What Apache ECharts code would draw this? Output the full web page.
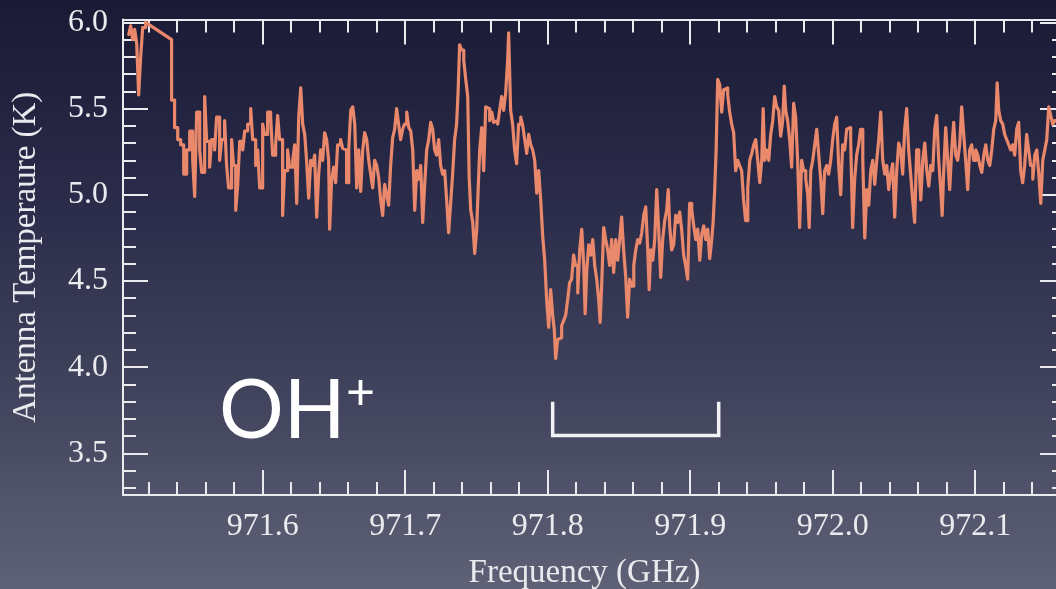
<!DOCTYPE html>
<html>
<head>
<meta charset="utf-8">
<title>OH+ absorption spectrum</title>
<script src="https://cdn.jsdelivr.net/npm/echarts@6/dist/echarts.min.js"></script>
<style>
  html, body { margin: 0; padding: 0; background: #2b2c4a; }
  #chart { width: 1056px; height: 589px; }
</style>
</head>
<body>
<div id="chart"></div>
<script>
// Spectrum near 971.8 GHz (frequency in GHz, antenna temperature in K)

// Channels at the low-frequency edge, before the gap in coverage
const edgeFreqs = [971.5060, 971.5074, 971.5088, 971.5102, 971.5116, 971.5130, 971.5144, 971.5158, 971.5179];
const edgeTemps = [5.93, 5.98, 5.90, 5.96, 5.88, 5.58, 5.80, 5.97, 6.00];

// Gap in coverage, bridged by a straight segment
const gapFreqs = [971.5179, 971.5361, 971.5361];
const gapTemps = [6.00, 5.90, 5.55];

// Main band
const freqs = [
  971.5361, 971.5382, 971.5404, 971.5425, 971.5446, 971.5467, 971.5488, 971.5509, 971.5523, 971.5537,
  971.5558, 971.5572, 971.5593, 971.5607, 971.5628, 971.5642, 971.5663, 971.5677, 971.5698, 971.5712,
  971.5733, 971.5747, 971.5761, 971.5782, 971.5796, 971.5811, 971.5825, 971.5839, 971.5860, 971.5874,
  971.5895, 971.5916, 971.5930, 971.5951, 971.5965, 971.5979, 971.6000, 971.6014, 971.6035, 971.6056,
  971.6070, 971.6091, 971.6105, 971.6119, 971.6140, 971.6154, 971.6175, 971.6189, 971.6211, 971.6225,
  971.6239, 971.6253, 971.6267, 971.6281, 971.6295, 971.6309, 971.6323, 971.6337, 971.6351, 971.6365,
  971.6379, 971.6393, 971.6407, 971.6421, 971.6435, 971.6449, 971.6463, 971.6470, 971.6484, 971.6498,
  971.6512, 971.6526, 971.6547, 971.6561, 971.6575, 971.6589, 971.6604, 971.6618, 971.6632, 971.6646,
  971.6660, 971.6674, 971.6688, 971.6702, 971.6716, 971.6730, 971.6744, 971.6758, 971.6772, 971.6786,
  971.6800, 971.6814, 971.6828, 971.6842, 971.6856, 971.6870, 971.6884, 971.6898, 971.6912, 971.6926,
  971.6940, 971.6954, 971.6968, 971.6982, 971.6996, 971.7011, 971.7025, 971.7039, 971.7053, 971.7067,
  971.7081, 971.7095, 971.7109, 971.7123, 971.7137, 971.7151, 971.7165, 971.7179, 971.7193, 971.7207,
  971.7221, 971.7235, 971.7249, 971.7263, 971.7277, 971.7291, 971.7305, 971.7319, 971.7333, 971.7347,
  971.7361, 971.7372, 971.7382, 971.7396, 971.7411, 971.7425, 971.7439, 971.7449, 971.7460, 971.7474,
  971.7488, 971.7502, 971.7512, 971.7523, 971.7537, 971.7551, 971.7565, 971.7579, 971.7593, 971.7607,
  971.7621, 971.7635, 971.7649, 971.7663, 971.7677, 971.7691, 971.7705, 971.7719, 971.7726, 971.7740,
  971.7754, 971.7768, 971.7782, 971.7796, 971.7811, 971.7825, 971.7839, 971.7853, 971.7867, 971.7881,
  971.7895, 971.7909, 971.7923, 971.7937, 971.7951, 971.7965, 971.7979, 971.7993, 971.8007, 971.8021,
  971.8035, 971.8046, 971.8056, 971.8070, 971.8084, 971.8098, 971.8112, 971.8126, 971.8140, 971.8154,
  971.8168, 971.8182, 971.8196, 971.8211, 971.8225, 971.8239, 971.8253, 971.8263, 971.8274, 971.8288,
  971.8302, 971.8316, 971.8330, 971.8344, 971.8358, 971.8368, 971.8379, 971.8393, 971.8407, 971.8421,
  971.8435, 971.8449, 971.8463, 971.8477, 971.8491, 971.8505, 971.8519, 971.8533, 971.8547, 971.8561,
  971.8575, 971.8589, 971.8604, 971.8618, 971.8632, 971.8646, 971.8660, 971.8674, 971.8688, 971.8702,
  971.8712, 971.8723, 971.8737, 971.8751, 971.8765, 971.8779, 971.8793, 971.8807, 971.8821, 971.8835,
  971.8846, 971.8856, 971.8870, 971.8884, 971.8898, 971.8912, 971.8926, 971.8940, 971.8954, 971.8968,
  971.8982, 971.8996, 971.9011, 971.9025, 971.9039, 971.9053, 971.9067, 971.9081, 971.9095, 971.9109,
  971.9123, 971.9137, 971.9151, 971.9161, 971.9172, 971.9182, 971.9193, 971.9207, 971.9221, 971.9235,
  971.9249, 971.9263, 971.9277, 971.9291, 971.9305, 971.9319, 971.9333, 971.9347, 971.9361, 971.9375,
  971.9389, 971.9404, 971.9418, 971.9432, 971.9446, 971.9460, 971.9474, 971.9488, 971.9502, 971.9512,
  971.9523, 971.9537, 971.9551, 971.9565, 971.9579, 971.9593, 971.9607, 971.9621, 971.9635, 971.9649,
  971.9660, 971.9670, 971.9684, 971.9698, 971.9712, 971.9726, 971.9740, 971.9754, 971.9768, 971.9782,
  971.9796, 971.9811, 971.9825, 971.9835, 971.9846, 971.9860, 971.9874, 971.9888, 971.9902, 971.9916,
  971.9930, 971.9944, 971.9958, 971.9972, 971.9986, 972.0000, 972.0014, 972.0028, 972.0042, 972.0056,
  972.0070, 972.0084, 972.0098, 972.0112, 972.0126, 972.0140, 972.0154, 972.0168, 972.0182, 972.0196,
  972.0211, 972.0225, 972.0239, 972.0253, 972.0267, 972.0281, 972.0295, 972.0309, 972.0323, 972.0337,
  972.0351, 972.0365, 972.0379, 972.0393, 972.0407, 972.0421, 972.0435, 972.0449, 972.0463, 972.0477,
  972.0491, 972.0505, 972.0519, 972.0533, 972.0547, 972.0561, 972.0575, 972.0589, 972.0604, 972.0618,
  972.0632, 972.0646, 972.0660, 972.0674, 972.0688, 972.0702, 972.0716, 972.0730, 972.0744, 972.0758,
  972.0768, 972.0779, 972.0793, 972.0807, 972.0821, 972.0835, 972.0849, 972.0863, 972.0877, 972.0891,
  972.0905, 972.0919, 972.0933, 972.0947, 972.0961, 972.0975, 972.0989, 972.1004, 972.1018, 972.1032,
  972.1046, 972.1060, 972.1074, 972.1088, 972.1102, 972.1116, 972.1130, 972.1144, 972.1154, 972.1165,
  972.1179, 972.1193, 972.1207, 972.1221, 972.1235, 972.1249, 972.1263, 972.1277, 972.1291, 972.1305,
  972.1319, 972.1333, 972.1347, 972.1361, 972.1375, 972.1389, 972.1404, 972.1418, 972.1432, 972.1446,
  972.1460, 972.1474, 972.1488, 972.1502, 972.1516, 972.1530, 972.1544, 972.1558, 972.1579, 972.1600,
  972.1621
];
const temps = [
  5.55, 5.39, 5.32, 5.29, 5.12, 5.26, 5.37, 5.20, 4.99, 5.48,
  5.26, 5.13, 5.57, 5.31, 5.16, 5.32, 5.26, 5.45, 5.20, 5.32,
  5.43, 5.17, 5.04, 5.32, 5.17, 4.91, 5.06, 5.31, 5.26, 5.37,
  5.41, 5.50, 5.32, 5.17, 5.26, 5.04, 5.41, 5.35, 5.48, 5.45,
  5.23, 5.29, 5.46, 5.32, 4.88, 5.14, 5.26, 5.16, 5.20, 5.29,
  4.95, 5.45, 5.62, 5.41, 5.35, 5.19, 4.98, 5.20, 5.17, 5.23,
  4.87, 5.12, 5.26, 5.20, 5.36, 5.32, 5.20, 4.80, 5.09, 5.16,
  5.07, 5.29, 5.32, 5.27, 5.26, 5.07, 5.26, 5.49, 5.51, 5.41,
  5.04, 5.26, 5.02, 5.26, 5.36, 5.32, 5.20, 5.12, 5.04, 5.20,
  5.17, 5.10, 4.97, 4.88, 5.06, 5.00, 4.94, 5.17, 5.33, 5.38,
  5.50, 5.41, 5.32, 5.38, 5.41, 5.48, 5.39, 5.37, 5.26, 4.91,
  5.14, 5.09, 5.17, 4.84, 5.06, 5.26, 5.32, 5.42, 5.38, 5.26,
  5.23, 5.32, 5.17, 5.12, 5.14, 4.97, 4.78, 4.95, 5.12, 5.32,
  5.41, 5.61, 5.87, 5.84, 5.78, 5.67, 5.57, 5.10, 4.91, 4.84,
  4.66, 4.80, 5.03, 5.26, 5.39, 5.14, 5.51, 5.50, 5.43, 5.48,
  5.42, 5.43, 5.41, 5.49, 5.57, 5.49, 5.59, 5.78, 5.94, 5.49,
  5.41, 5.26, 5.18, 5.41, 5.45, 5.40, 5.32, 5.24, 5.35, 5.29,
  5.26, 5.20, 5.01, 5.14, 4.97, 4.76, 4.62, 4.39, 4.23, 4.45,
  4.30, 4.22, 4.05, 4.16, 4.17, 4.24, 4.27, 4.30, 4.39, 4.49,
  4.51, 4.65, 4.59, 4.43, 4.68, 4.80, 4.59, 4.31, 4.56, 4.71,
  4.65, 4.74, 4.59, 4.51, 4.39, 4.26, 4.48, 4.81, 4.74, 4.68,
  4.59, 4.74, 4.55, 4.74, 4.62, 4.74, 4.87, 4.68, 4.53, 4.29,
  4.51, 4.47, 4.59, 4.68, 4.74, 4.72, 4.78, 4.88, 4.93, 4.68,
  4.45, 4.68, 4.62, 4.74, 5.03, 4.80, 4.52, 4.74, 4.85, 4.91,
  5.03, 4.82, 4.68, 4.71, 4.88, 4.84, 4.90, 4.80, 4.65, 4.59,
  4.51, 4.95, 4.91, 4.82, 4.74, 4.80, 4.62, 4.77, 4.82, 4.74,
  4.80, 4.63, 4.74, 4.84, 5.03, 5.26, 5.67, 5.64, 5.48, 5.61,
  5.62, 5.58, 5.48, 5.41, 5.36, 5.14, 5.20, 5.17, 5.14, 4.97,
  4.85, 5.04, 5.20, 5.24, 5.29, 5.32, 5.20, 5.07, 5.20, 5.50,
  5.20, 5.26, 5.20, 5.35, 5.43, 5.57, 5.51, 5.49, 5.34, 5.43,
  5.63, 5.49, 5.43, 5.32, 5.16, 5.53, 5.45, 5.20, 4.81, 5.20,
  5.14, 5.09, 5.00, 4.81, 5.14, 5.20, 5.29, 5.38, 5.23, 5.09,
  4.89, 5.14, 5.17, 5.12, 5.20, 5.32, 5.41, 5.45, 5.17, 5.00,
  5.29, 5.26, 5.38, 5.39, 5.32, 4.81, 5.09, 5.23, 5.29, 5.38,
  5.20, 4.75, 5.03, 4.94, 5.14, 5.20, 5.06, 5.20, 5.32, 5.48,
  5.20, 5.12, 5.17, 5.03, 5.12, 5.18, 4.87, 5.14, 5.30, 5.26,
  5.12, 5.38, 5.50, 5.26, 5.12, 4.97, 4.84, 5.26, 5.20, 4.97,
  5.20, 5.30, 5.14, 5.05, 5.17, 5.14, 5.38, 5.46, 5.20, 5.03,
  4.88, 5.14, 5.39, 5.20, 5.03, 5.26, 5.42, 5.23, 5.20, 5.29,
  5.51, 5.35, 5.20, 5.03, 5.26, 5.29, 5.20, 5.26, 5.23, 5.17,
  5.13, 5.23, 5.29, 5.20, 5.17, 5.26, 5.38, 5.43, 5.65, 5.49,
  5.43, 5.41, 5.35, 5.32, 5.29, 5.26, 5.29, 5.23, 5.38, 5.42,
  5.14, 5.07, 5.17, 5.35, 5.26, 5.17, 5.09, 5.23, 5.26, 5.12,
  4.95, 5.20, 5.26, 5.32, 5.51, 5.46, 5.41, 5.43, 5.38, 5.41,
  5.41
];

// Velocity range of the absorption feature
const bracketFreqs = [971.8035, 971.8035, 971.9200, 971.9200];
const bracketTemps = [3.789, 3.603, 3.603, 3.789];

// Axis ranges and tick positions
const xRange = [971.502, 972.163];
const yRange = [3.258, 6.017];
const xMajorTicks = [971.6, 971.7, 971.8, 971.9, 972.0, 972.1];
const xMinorTicks = [971.52, 971.54, 971.56, 971.58, 971.60, 971.62, 971.64, 971.66, 971.68, 971.70,
  971.72, 971.74, 971.76, 971.78, 971.80, 971.82, 971.84, 971.86, 971.88, 971.90, 971.92, 971.94,
  971.96, 971.98, 972.00, 972.02, 972.04, 972.06, 972.08, 972.10, 972.12, 972.14, 972.16];
const yMajorTicks = [3.5, 4.0, 4.5, 5.0, 5.5, 6.0];
const yMinorTicks = [3.3, 3.4, 3.5, 3.6, 3.7, 3.8, 3.9, 4.0, 4.1, 4.2, 4.3, 4.4, 4.5, 4.6, 4.7, 4.8,
  4.9, 5.0, 5.1, 5.2, 5.3, 5.4, 5.5, 5.6, 5.7, 5.8, 5.9, 6.0];

const pair = (xs, ys) => xs.map((x, i) => [x, ys[i]]);

const ink = '#ebebef';
const traceColor = '#e9886b';
const traceWidth = 3.2;
const serif = '"Liberation Serif", "Times New Roman", serif';

function axisCommon(kind, position, ticks, len, major) {
  const range = kind === 'x' ? xRange : yRange;
  return {
    type: 'value',
    position: position,
    min: range[0],
    max: range[1],
    scale: true,
    splitLine: { show: false },
    axisLine: { show: major, onZero: false, lineStyle: { color: ink, width: 2 } },
    axisTick: {
      show: true, inside: true, length: len, customValues: ticks,
      lineStyle: { color: ink, width: 2 }
    },
    axisLabel: { show: false },
    z: 3
  };
}

const xBottom = axisCommon('x', 'bottom', xMajorTicks, 25, true);
xBottom.axisLabel = {
  show: true, customValues: xMajorTicks, margin: 16,
  formatter: v => v.toFixed(1),
  fontFamily: serif, fontSize: 32, color: ink
};
xBottom.name = 'Frequency (GHz)';
xBottom.nameLocation = 'middle';
xBottom.nameGap = 62;
xBottom.nameTextStyle = { fontFamily: serif, fontSize: 33, color: ink, padding: [0, 19, 0, 0] };

const yLeft = axisCommon('y', 'left', yMajorTicks, 25, true);
yLeft.axisLabel = {
  show: true, customValues: yMajorTicks, margin: 15,
  formatter: v => v.toFixed(1),
  fontFamily: serif, fontSize: 32, color: ink
};
yLeft.name = 'Antenna Temperaure (K)';
yLeft.nameLocation = 'middle';
yLeft.nameGap = 80;
yLeft.nameTextStyle = { fontFamily: serif, fontSize: 33, color: ink };

// Spectrum traces share one style; channels are drawn as flat steps
const traceStyle = { color: traceColor, width: traceWidth, join: 'round', cap: 'round' };

const chart = echarts.init(document.getElementById('chart'), null, { renderer: 'canvas' });

chart.setOption({
  animation: false,
  backgroundColor: new echarts.graphic.LinearGradient(0, 0, 0, 1, [
    { offset: 0, color: '#1a1a35' },
    { offset: 0.35, color: '#2b2c4a' },
    { offset: 0.7, color: '#43465e' },
    { offset: 1, color: '#5f6276' }
  ]),
  grid: { left: 123, right: -9, top: 19.5, bottom: 94, containLabel: false, outerBoundsMode: 'none' },
  xAxis: [
    xBottom,
    axisCommon('x', 'bottom', xMinorTicks, 13, false),
    axisCommon('x', 'top', xMajorTicks, 25, true),
    axisCommon('x', 'top', xMinorTicks, 13, false)
  ],
  yAxis: [
    yLeft,
    axisCommon('y', 'left', yMinorTicks, 13, false),
    axisCommon('y', 'right', yMajorTicks, 25, true),
    axisCommon('y', 'right', yMinorTicks, 13, false)
  ],
  series: [
    {
      name: 'edge', type: 'line', step: 'end', symbol: 'none', showSymbol: false,
      data: pair(edgeFreqs, edgeTemps),
      lineStyle: traceStyle, z: 4
    },
    {
      name: 'gap', type: 'line', symbol: 'none', showSymbol: false,
      data: pair(gapFreqs, gapTemps),
      lineStyle: traceStyle, z: 4
    },
    {
      name: 'OH+', type: 'line', step: 'end', symbol: 'none', showSymbol: false,
      sampling: 'none',
      data: pair(freqs, temps),
      lineStyle: traceStyle, z: 4
    },
    {
      name: 'range', type: 'line', symbol: 'none', showSymbol: false,
      data: pair(bracketFreqs, bracketTemps),
      lineStyle: { color: '#f2f2f4', width: 3.5, cap: 'square', join: 'miter' }, z: 4
    }
  ],
  graphic: [
    {
      type: 'text', left: 219, top: 371, z: 10,
      style: { text: 'OH', font: '400 81px Lato', fill: '#ffffff' }
    },
    {
      type: 'text', left: 346, top: 368, z: 10,
      style: { text: '+', font: '400 50px Lato', fill: '#ffffff' }
    }
  ]
});
</script>
</body>
</html>
